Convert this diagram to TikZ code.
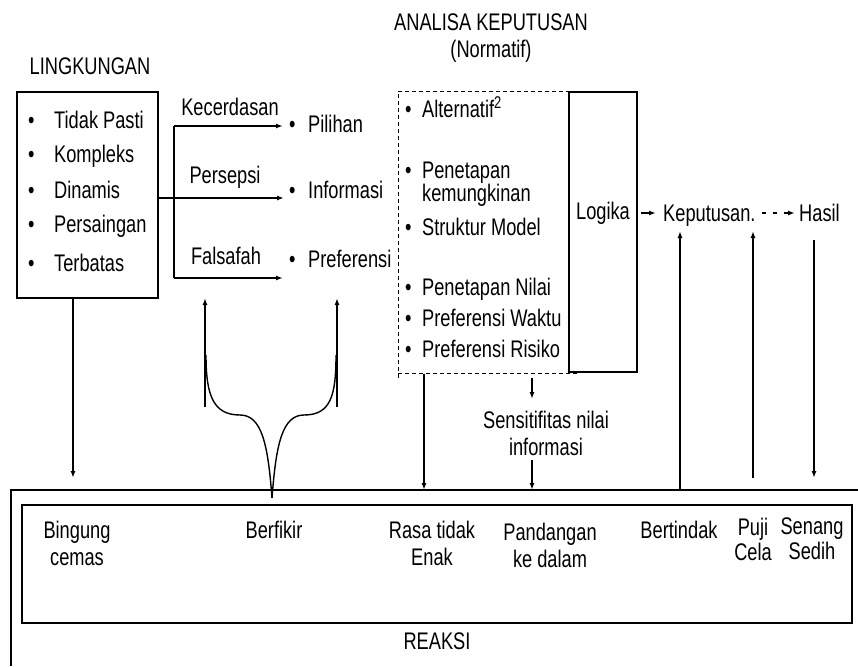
\documentclass[tikz,border=0pt]{standalone}
\usepackage{fontspec}
\setmainfont{Liberation Sans}[FakeStretch=0.76]
\usepackage{tikz}
\usetikzlibrary{arrows.meta}

\newcommand{\titik}[2]{\makebox[#1][l]{\textbullet}#2}

\begin{document}
\begin{tikzpicture}[x=1pt,y=-1pt,
        font=\fontsize{24}{27}\selectfont,
        teks/.style={inner sep=1pt},
        kotak/.style={draw, line width=1.1pt, inner sep=0pt},
        garis/.style={line width=1.4pt},
        panah/.style={line width=1.4pt, -{Latex[length=7pt,width=5pt]}},
        putus/.style={line width=0.9pt, dash pattern=on 4pt off 3pt}]
        \useasboundingbox (0,0) rectangle (858,666);

        % Lingkungan
        \node[teks] (lingjudul) at (90,66) {LINGKUNGAN};
        \node[kotak, minimum width=141pt, minimum height=206pt] (ling) at (87.5,195) {};
        \node[teks, anchor=west] (tidakpasti) at (27,120) {\titik{26pt}{Tidak Pasti}};
        \node[teks, anchor=west] (kompleks) at (27,156) {\titik{26pt}{Kompleks}};
        \node[teks, anchor=west] (dinamis) at (27,190) {\titik{26pt}{Dinamis}};
        \node[teks, anchor=west] (persaingan) at (27,226) {\titik{26pt}{Persaingan}};
        \node[teks, anchor=west] (terbatas) at (27,263) {\titik{26pt}{Terbatas}};

        % Pilihan, informasi, preferensi
        \node[teks, anchor=west] (pilihan) at (288,124) {\titik{19pt}{Pilihan}};
        \node[teks, anchor=west] (informasi) at (288,190) {\titik{19pt}{Informasi}};
        \node[teks, anchor=west] (preferensi) at (288,259) {\titik{19pt}{Preferensi}};
        \node[teks] (kecerdasan) at (230,107) {Kecerdasan};
        \node[teks] (persepsi) at (225,177) {Persepsi};
        \node[teks] (falsafah) at (226,256) {Falsafah};

        \coordinate (cabatas) at (174,126);
        \coordinate (cabbawah) at (174,278);
        \draw[garis] (cabatas) -- (cabbawah);
        \draw[panah, shorten >=5pt] (cabatas) -- (cabatas -| pilihan.west);
        \draw[panah, shorten >=4pt] (ling.east |- 0,198) -- (informasi.west |- 0,198);
        \draw[panah, shorten >=5pt] (cabbawah) -- (cabbawah -| preferensi.west);

        % Analisa keputusan
        \node[teks, align=center] (analisa) at (491,38) {ANALISA KEPUTUSAN\\(Normatif)};
        \draw[putus] (577,91) -- (398,91) -- (398,379);
        \draw[putus] (398,373) -- (577,373);
        \node[teks, anchor=west] (alternatif) at (404,107) {\titik{17pt}{Alternatif\textsuperscript{\fontsize{17}{17}\selectfont 2}}};
        \node[teks, anchor=west, align=left, font=\fontsize{24}{22}\selectfont] (kemungkinan) at (404,184)
            {\titik{17pt}{Penetapan}\\\hspace*{17pt}kemungkinan};
        \node[teks, anchor=west] (struktur) at (404,227) {\titik{17pt}{Struktur Model}};
        \node[teks, anchor=west] (nilai) at (404,289) {\titik{17pt}{Penetapan Nilai}};
        \node[teks, anchor=west] (waktu) at (404,318) {\titik{17pt}{Preferensi Waktu}};
        \node[teks, anchor=west] (risiko) at (404,349) {\titik{17pt}{Preferensi Risiko}};

        \node[kotak, minimum width=68pt, minimum height=280pt] (logikabox) at (603,232) {};
        \node[teks, anchor=base] (logika) at (603,219) {Logika};
        \node[teks, anchor=base west] (keputusan) at (662,221) {Keputusan.};
        \node[teks, anchor=base west] (hasil) at (798,221) {Hasil};
        \draw[panah, shorten <=3pt, shorten >=6pt] (logikabox.east |- 0,213) -- (keputusan.west |- 0,213);
        \draw[panah, dash pattern=on 4pt off 7pt, shorten <=5pt, shorten >=3pt] (keputusan.east |- 0,213) -- (hasil.west |- 0,213);

        \node[teks, align=center] (sensitif) at (546,433) {Sensitifitas nilai\\informasi};

        % Reaksi
        \coordinate (garisA) at (11,490);
        \coordinate (garisB) at (11,478);
        \draw[line width=1.1pt] (858,490) -- (garisA) -- (11,666);
        \node[kotak, minimum width=830pt, minimum height=118pt] (reaksi) at (437,564) {};
        \node[teks] (reaksijudul) at (437,641) {REAKSI};
        \node[teks, align=center] (bingung) at (77,543) {Bingung\\cemas};
        \node[teks] (berfikir) at (274,530) {Berfikir};
        \node[teks, align=center] (rasa) at (432,543) {Rasa tidak\\Enak};
        \node[teks, align=center] (pandangan) at (550,545) {Pandangan\\ke dalam};
        \node[teks] (bertindak) at (679,530) {Bertindak};
        \node[teks, align=center, font=\fontsize{24}{25}\selectfont] (puji) at (753,539) {Puji\\Cela};
        \node[teks, align=center, font=\fontsize{24}{25}\selectfont] (senang) at (812,539) {Senang\\Sedih};

        % Panah ke reaksi
        \coordinate (lingkiri) at (73,298);
        \draw[panah] (lingkiri) -- (lingkiri |- garisB);
        \coordinate (analisabawah) at (424,374);
        \draw[panah] (analisabawah) -- (analisabawah |- garisA);
        \coordinate (sensatas) at (532,378);
        \draw[panah] (sensatas) -- (sensatas |- 0,399);
        \draw[panah, shorten <=3pt] (sensatas |- sensitif.south) -- (sensatas |- garisA);
        \draw[panah, shorten >=4pt] (680,490) -- (680,227);
        \draw[panah, shorten >=4pt] (753,478) -- (753,227);
        \draw[panah] (814,240) -- (814,478);

        % Berfikir
        \coordinate (puncak) at (272,498);
        \coordinate (kiribawah) at (205,407);
        \coordinate (kananbawah) at (337,407);
        \draw[panah] (kiribawah) -- (kiribawah |- 0,298);
        \draw[panah] (kananbawah) -- (kananbawah |- 0,298);
        \draw[garis] (puncak) .. controls (268,445) and (262,415) .. (240,415)
            .. controls (213,415) and (206,395) .. (206,355);
        \draw[garis] (puncak) .. controls (276,445) and (282,415) .. (304,415)
            .. controls (331,415) and (336,395) .. (336,355);
    \end{tikzpicture}
\end{document}
